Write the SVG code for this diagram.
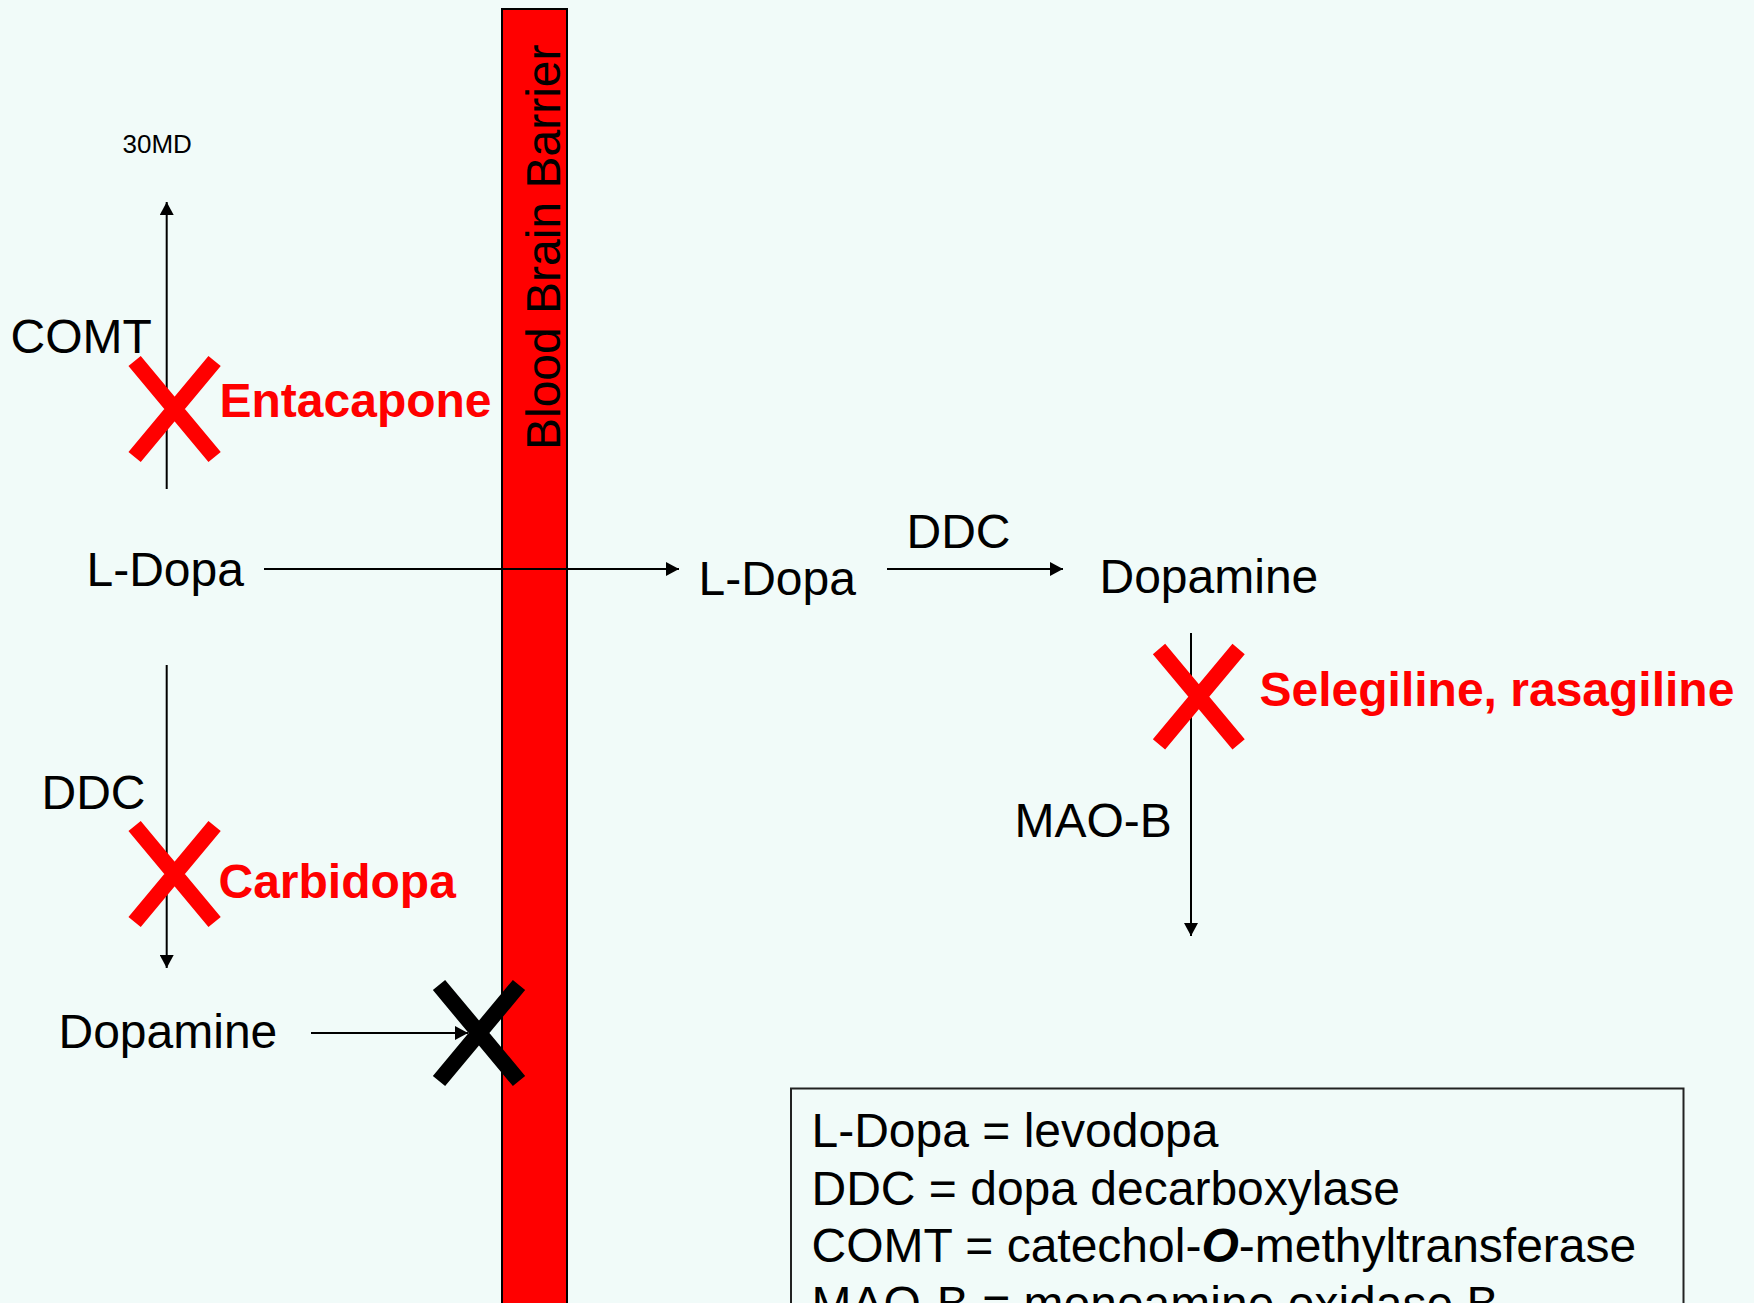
<svg xmlns="http://www.w3.org/2000/svg" width="1754" height="1303" viewBox="0 0 1754 1303">
<defs>
<style>
text{font-family:"Liberation Sans",Arial,sans-serif;fill:#000}
.t{font-size:48px}
.drug{font-size:48px;font-weight:bold;fill:#FF0000}
.conn{stroke:#000;stroke-width:2;fill:none}
.xr{stroke:#FF0000;stroke-width:16;fill:none}
.xb{stroke:#000;stroke-width:16;fill:none}
</style>
<marker id="ah" markerUnits="userSpaceOnUse" markerWidth="14" markerHeight="14" refX="13" refY="7" orient="auto">
<path d="M0,0 L13,7 L0,14 Z" fill="#000"/>
</marker>
</defs>
<rect x="0" y="0" width="1754" height="1303" fill="#F1FBF9"/>

<g id="barrier">
<rect x="502" y="9" width="65" height="1300" fill="#FF0000" stroke="#000" stroke-width="2"/>
<text class="t" transform="translate(560,450) rotate(-90)">Blood Brain Barrier</text>
</g>

<g id="connectors">
<line class="conn" x1="166.7" y1="489" x2="166.7" y2="202" marker-end="url(#ah)"/>
<line class="conn" x1="264" y1="569" x2="679" y2="569" marker-end="url(#ah)"/>
<line class="conn" x1="166.7" y1="665" x2="166.7" y2="968" marker-end="url(#ah)"/>
<line class="conn" x1="311" y1="1033" x2="468" y2="1033" marker-end="url(#ah)"/>
<line class="conn" x1="887" y1="569" x2="1063" y2="569" marker-end="url(#ah)"/>
<line class="conn" x1="1191" y1="633" x2="1191" y2="936" marker-end="url(#ah)"/>
</g>

<g id="n-30md"><text x="122.5" y="153" style="font-size:26px">30MD</text></g>
<g id="n-comt"><text class="t" x="10.5" y="353">COMT</text></g>
<g id="x-entacapone"><path class="xr" d="M134.6,361 L214.6,457 M214.6,361 L134.6,457"/></g>
<g id="n-entacapone"><text class="drug" x="219.5" y="417">Entacapone</text></g>
<g id="n-ldopa-left"><text class="t" x="86.5" y="586">L-Dopa</text></g>
<g id="n-ddc-left"><text class="t" x="41.5" y="809">DDC</text></g>
<g id="x-carbidopa"><path class="xr" d="M134.6,826 L214.6,922 M214.6,826 L134.6,922"/></g>
<g id="n-carbidopa"><text class="drug" x="218.5" y="898">Carbidopa</text></g>
<g id="n-dopamine-left"><text class="t" x="58.5" y="1048">Dopamine</text></g>
<g id="x-barrier"><path class="xb" d="M439,985 L519,1081 M519,985 L439,1081"/></g>
<g id="n-ldopa-right"><text class="t" x="698.5" y="595">L-Dopa</text></g>
<g id="n-ddc-right"><text class="t" x="906.5" y="548">DDC</text></g>
<g id="n-dopamine-right"><text class="t" x="1099.5" y="593">Dopamine</text></g>
<g id="x-selegiline"><path class="xr" d="M1159,649 L1238.6,744.3 M1238.6,649 L1159,744.3"/></g>
<g id="n-selegiline"><text class="drug" x="1259.5" y="706">Selegiline, rasagiline</text></g>
<g id="n-maob"><text class="t" x="1014.5" y="837">MAO-B</text></g>

<g id="legend">
<rect x="791" y="1088.5" width="892.5" height="230" fill="none" stroke="#222" stroke-width="2"/>
<text class="t" x="811.5" y="1146.5">L-Dopa = levodopa</text>
<text class="t" x="811.5" y="1204.5">DDC = dopa decarboxylase</text>
<text class="t" x="811.5" y="1262">COMT = catechol-<tspan font-weight="bold" font-style="italic">O</tspan>-methyltransferase</text>
<text class="t" x="811.5" y="1319.5">MAO-B = monoamine oxidase B</text>
</g>
</svg>
